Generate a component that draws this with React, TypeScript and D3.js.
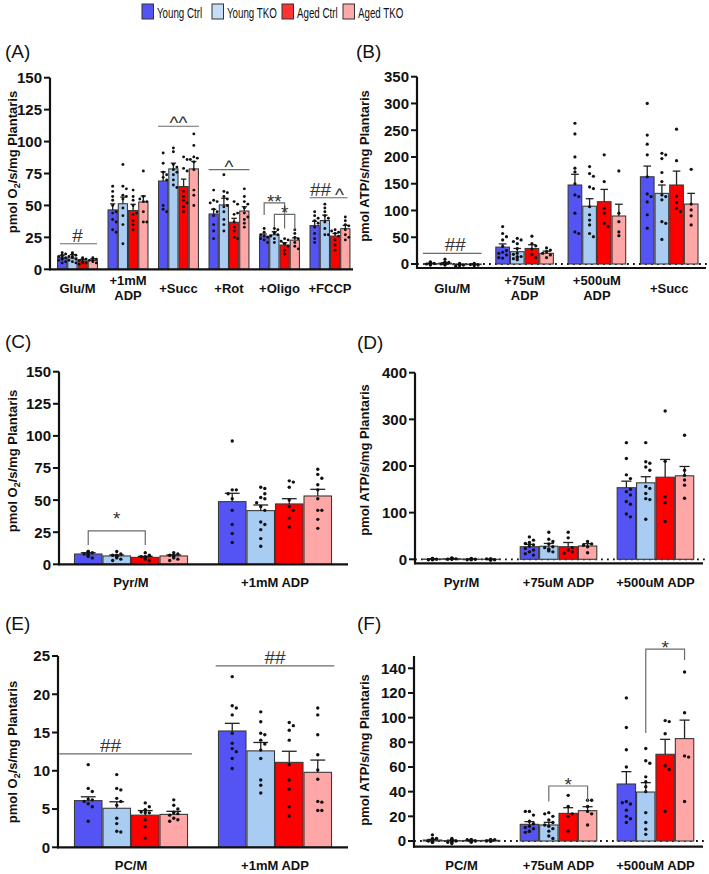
import React from "react";
import * as d3 from "d3";

const seriesNames = ["Young Ctrl", "Young TKO", "Aged Ctrl", "Aged TKO"];
const seriesColors = ["#5454F4", "#A9CCF3", "#FF0000", "#FFA6A6"];
const legendColors = ["#5454F4", "#C6DDF6", "#FF3333", "#FFAAAA"];

// ---------- Panel A ----------
const groupsA = ["Glu/M", "+1mM\nADP", "+Succ", "+Rot", "+Oligo", "+FCCP"];
const ticksA = [0, 25, 50, 75, 100, 125, 150];
const meanA = [
  [9.1, 8.9, 6.6, 7.0],
  [46.5, 51.3, 46.0, 52.7],
  [69.1, 78.6, 64.8, 78.6],
  [43.3, 50.4, 36.8, 45.6],
  [26.0, 27.0, 19.0, 22.8],
  [34.2, 38.2, 26.0, 31.8],
];
const semA = [
  [2.0, 2.6, 1.2, 1.2],
  [4.7, 5.2, 4.9, 4.7],
  [7.2, 4.5, 5.8, 5.8],
  [3.7, 5.2, 3.1, 3.4],
  [1.6, 2.4, 1.8, 1.8],
  [3.4, 4.2, 2.1, 2.6],
];
const ptsA = [
  [[13, 12, 10, 10, 9, 8, 8, 7, 6, 5, 11], [13, 11, 10, 10, 9, 8, 7, 6, 5, 12], [9, 8, 7, 6, 5, 5, 4, 8], [9, 8, 7, 7, 6, 5, 8]],
  [[65, 61, 57, 54, 50, 44, 39, 37, 31, 29, 45], [82, 65, 63, 58, 57, 55, 42, 35, 20, 48], [62, 57, 54, 50, 43, 38, 35, 31, 44], [77, 57, 53, 53, 45, 37, 37, 55]],
  [[91, 83, 76, 74, 72, 50, 47, 45, 70], [95, 92, 82, 80, 78, 76, 74, 70, 66, 64], [88, 86, 79, 77, 61, 57, 54, 52, 49, 45], [106, 97, 88, 87, 86, 84, 78, 62, 58, 50]],
  [[62, 54, 53, 52, 47, 42, 35, 30, 24, 45], [74, 61, 60, 57, 55, 49, 45, 39, 50, 30, 35], [53, 51, 43, 37, 33, 30, 25, 44, 24], [63, 57, 53, 51, 44, 39, 33, 48, 41, 36]],
  [[32, 29, 26, 25, 23, 21, 27, 24], [32, 31, 29, 27, 24, 21, 26, 28], [24, 23, 22, 20, 18, 15, 12, 20], [31, 28, 25, 21, 18, 24, 16]],
  [[45, 42, 38, 36, 33, 28, 24, 21, 40], [51, 48, 45, 42, 40, 37, 32, 27, 27], [31, 28, 26, 23, 19, 15, 29, 30], [41, 38, 35, 31, 27, 25, 23, 34]],
];

// ---------- Panel B ----------
const groupsB = ["Glu/M", "+75uM\nADP", "+500uM\nADP", "+Succ"];
const ticksB = [0, 50, 100, 150, 200, 250, 300, 350];
const meanB = [
  [0.8, 1.5, -1.5, -1.0],
  [31.5, 23.0, 29.0, 20.0],
  [147.6, 108.0, 116.4, 89.7],
  [163.0, 132.0, 147.6, 112.0],
];
const semB = [
  [0.6, 0.9, 0.7, 0.6],
  [6.0, 6.0, 7.0, 4.0],
  [20.0, 14.0, 23.0, 22.0],
  [20.0, 15.6, 26.0, 20.0],
];
const ptsB = [
  [[3, 1, 0, -1, 2, 0, -2, 1, 4, 0, 1], [9, 3, 1, 0, -1, 2, 0, 4, -2, 1], [1, -2, -4, 0, -3, -1, -2], [0, -2, -1, -3, 1, -2, 0]],
  [[70, 57, 51, 45, 33, 22, 17, 11, 20, 25, 12], [48, 45, 42, 38, 29, 20, 14, 18, 14, 10, 8, 12], [52, 38, 34, 28, 18, 12], [30, 26, 23, 17, 20, 12]],
  [[263, 243, 200, 179, 172, 129, 126, 95, 60, 57, 150], [182, 169, 164, 144, 141, 107, 92, 82, 73, 57, 51], [204, 154, 104, 95, 76, 70], [174, 95, 79, 60, 53]],
  [[300, 241, 224, 204, 163, 131, 126, 116, 92, 67], [207, 204, 197, 171, 154, 129, 126, 120, 79, 76, 46], [252, 193, 127, 115, 104, 98], [177, 112, 101, 90, 73]],
];

// ---------- Panel C ----------
const groupsC = ["Pyr/M", "+1mM ADP"];
const ticksC = [0, 25, 50, 75, 100, 125, 150];
const meanC = [
  [8.0, 6.5, 5.4, 6.5],
  [48.8, 41.8, 47.0, 53.2],
];
const semC = [
  [1.0, 0.8, 0.8, 0.8],
  [6.5, 4.4, 4.1, 5.2],
];
const ptsC = [
  [[10, 9, 8, 8, 7, 6, 5, 9, 8, 10], [10, 8, 7, 6, 5, 4, 6, 7, 3, 6], [9, 7, 6, 5, 4, 5, 6, 3], [9, 8, 7, 6, 5, 4, 3, 7]],
  [[96, 58, 58, 51, 42, 31, 24, 17, 55], [60, 59, 52, 51, 45, 42, 33, 31, 27, 20, 14, 48, 55], [65, 64, 60, 45, 42, 36, 29, 50], [74, 70, 67, 62, 58, 51, 42, 42, 35, 28]],
];

// ---------- Panel D ----------
const groupsD = ["Pyr/M", "+75uM ADP", "+500uM ADP"];
const ticksD = [0, 100, 200, 300, 400];
const meanD = [
  [0.5, 1.2, 0.3, 0.0],
  [27.0, 28.0, 27.0, 28.5],
  [153.5, 164.0, 176.0, 179.0],
];
const semD = [
  [0.4, 0.4, 0.4, 0.4],
  [5.0, 6.0, 9.0, 5.0],
  [14.0, 13.0, 38.0, 20.0],
];
const ptsD = [
  [[1, 0, -1, 2, 0, 1, -1, 0, 1, 2], [2, 1, 0, 3, 1, 2, 0, 1, 2], [1, 0, -1, 1, 0, 2, -1], [0, -1, 1, 0, -2, 1, 0]],
  [[48, 41, 36, 34, 31, 28, 23, 20, 16, 12, 9], [58, 43, 38, 33, 27, 25, 22, 20, 16, 18], [58, 46, 20, 16, 13, 25], [38, 33, 30, 27, 14]],
  [[250, 216, 181, 173, 145, 138, 124, 118, 97, 91, 150], [250, 209, 206, 198, 191, 130, 156, 152, 141, 128, 86], [318, 210, 134, 121, 81], [266, 191, 180, 170, 159, 131]],
];

// ---------- Panel E ----------
const groupsE = ["PC/M", "+1mM ADP"];
const ticksE = [0, 5, 10, 15, 20, 25];
const meanE = [
  [6.1, 5.1, 4.2, 4.3],
  [15.2, 12.6, 11.1, 9.8],
];
const semE = [
  [0.5, 0.85, 0.6, 0.4],
  [1.0, 1.1, 1.45, 1.6],
];
const ptsE = [
  [[10.8, 7.7, 7.3, 6.3, 6.2, 6.0, 5.7, 5.3, 3.4], [9.5, 7.7, 7.5, 6.4, 6.0, 5.5, 3.8, 3.1, 2.1, 2.0], [5.8, 5.3, 4.9, 4.5, 4.6, 3.6, 2.7, 1.2, 4.8, 4.5], [6.2, 5.5, 5.0, 4.6, 4.4, 4.2, 3.8, 3.6, 3.4, 4.5]],
  [[22.3, 18.5, 18.2, 17.3, 14.9, 13.6, 12.9, 12.5, 11.6, 10.3], [17.7, 16.4, 14.9, 14.7, 14.0, 12.7, 11.6, 8.8, 8.1, 7.1, 13.5], [16.3, 15.9, 15.3, 14.0, 10.8, 8.8, 7.6, 5.3, 4.1], [18.2, 17.3, 14.7, 12.1, 10.1, 8.9, 6.0, 5.9, 4.8, 4.8]],
];

// ---------- Panel F ----------
const groupsF = ["PC/M", "+75uM ADP", "+500uM ADP"];
const ticksF = [0, 20, 40, 60, 80, 100, 120, 140];
const meanF = [
  [0.8, 0.3, 0.4, 0.5],
  [13.5, 13.0, 22.4, 24.6],
  [46.2, 39.7, 70.3, 83.0],
];
const semF = [
  [0.5, 0.4, 0.3, 0.2],
  [2.2, 2.1, 4.6, 3.2],
  [10.0, 7.6, 12.1, 15.0],
];
const ptsF = [
  [[5, 2, 1, 0, -1, 1, 0, 2, -1, 0], [1, 0, -1, 2, 0, -2, 1, 0, -1], [1, 0, 1, 0, -1, 0, 1], [0, 1, 0, 1, 0, 0, 1]],
  [[24, 21, 16, 14, 12, 11, 10, 8, 8, 7, 24], [23, 20, 17, 15, 12, 10, 8, 4, 2, 22, 13], [37, 28, 20, 8, 22], [33, 33, 28, 24, 22, 13]],
  [[116, 92, 74, 60, 32, 30, 25, 20, 18, 15, 31], [75, 65, 63, 52, 48, 44, 40, 23, 15, 9.5, 5.4], [97.6, 96.8, 87, 61, 58, 24], [137, 104, 69, 68, 32]],
];

// ---------- annotations (data units) ----------
type Ann =
  | { kind: "line"; g: number; f1: number; f2: number; v: number; labels: { t: string; f: number }[] }
  | { kind: "bracket"; g: number; s1: number; s2: number; v: number; v1: number; v2: number; label: string; dy?: number };

const annA: Ann[] = [
  { kind: "line", g: 0, f1: 0.07, f2: 0.98, v: 20, labels: [{ t: "#", f: 0.5 }] },
  { kind: "line", g: 2, f1: 0, f2: 1, v: 112, labels: [{ t: "^^", f: 0.5 }] },
  { kind: "line", g: 3, f1: 0, f2: 1, v: 78, labels: [{ t: "^", f: 0.5 }] },
  { kind: "bracket", g: 4, s1: 0, s2: 2, v: 52, v1: 42.5, v2: 32, label: "**" },
  { kind: "bracket", g: 4, s1: 1, s2: 3, v: 43, v1: 33, v2: 31, label: "*" },
  { kind: "line", g: 5, f1: 0, f2: 0.93, v: 56, labels: [{ t: "##", f: 0.27 }, { t: "^", f: 0.73 }] },
];
const annB: Ann[] = [{ kind: "line", g: 0, f1: 0, f2: 1, v: 20, labels: [{ t: "##", f: 0.55 }] }];
const annC: Ann[] = [{ kind: "bracket", g: 0, s1: 0, s2: 2, v: 26, v1: 15, v2: 15, label: "*", dy: -6 }];
const annD: Ann[] = [];
const annE: Ann[] = [
  { kind: "line", g: 0, f1: -0.13, f2: 1.035, v: 12.2, labels: [{ t: "##", f: 0.32 }] },
  { kind: "line", g: 1, f1: -0.02, f2: 1.02, v: 23.7, labels: [{ t: "##", f: 0.5 }] },
];
const annF: Ann[] = [
  { kind: "bracket", g: 1, s1: 1, s2: 3, v: 44.6, v1: 32, v2: 32, label: "*" },
  { kind: "bracket", g: 2, s1: 1, s2: 3, v: 155.6, v1: 87.5, v2: 146.7, label: "*" },
];

const FONT = "Arial, 'Liberation Sans', Helvetica, sans-serif";

type PanelCfg = {
  letter: string;
  letterX: number;
  letterY: number;
  groups: string[];
  means: number[][];
  sems: number[][];
  points: number[][][];
  ticks: number[];
  ann: Ann[];
  yZeroPx: number;
  yTopTickPx: number;
  yAxisTopVal: number;
  yMinVal: number;
  axisX: number;
  axisXEnd: number;
  bandRange: [number, number];
  padIn: number;
  padOut: number;
  yLabel: "O2" | "ATP";
  yLabelX: number;
  yLabelY: number;
  singleBase: number;
  twoBase: number;
  dotted: boolean;
  dotR: number;
};

function swarm(vals: number[], y: (v: number) => number, r: number, maxOff: number) {
  const placed: { x: number; y: number }[] = [];
  const res: { x: number; y: number }[] = [];
  const d = r * 2.4;
  vals.forEach((v) => {
    const py = y(v);
    let chosen = 0;
    for (let k = 0; k < 30; k++) {
      const cand = k === 0 ? 0 : (k % 2 === 1 ? 1 : -1) * Math.ceil(k / 2) * d;
      if (Math.abs(cand) > maxOff) {
        chosen = ((k % 7) / 6 - 0.5) * 2 * maxOff;
        break;
      }
      const ok = placed.every((p) => Math.hypot(p.x - cand, p.y - py) >= d * 0.95);
      if (ok) {
        chosen = cand;
        break;
      }
    }
    placed.push({ x: chosen, y: py });
    res.push({ x: chosen, y: py });
  });
  return res;
}

function Panel(p: PanelCfg) {
  const topTick = p.ticks[p.ticks.length - 1];
  const y = d3.scaleLinear().domain([0, topTick]).range([p.yZeroPx, p.yTopTickPx]);
  const xg = d3.scaleBand<string>().domain(p.groups).range(p.bandRange).paddingInner(p.padIn).paddingOuter(p.padOut);
  const xs = d3.scaleBand<string>().domain(seriesNames).range([0, xg.bandwidth()]);
  const bw = xs.bandwidth();
  const bottom = y(p.yMinVal);
  const barCenter = (g: number, s: number) => (xg(p.groups[g]) as number) + (xs(seriesNames[s]) as number) + bw / 2;
  const annColor = "#6a6a6a";

  const labelDy = (t: string) => (t.startsWith("#") ? -2 : t.startsWith("^") ? 3 : 5);

  return (
    <g>
      <text x={p.letterX} y={p.letterY} fontFamily={FONT} fontSize={19} fill="#111">
        {p.letter}
      </text>
      <text
        transform={`translate(${p.yLabelX},${p.yLabelY}) rotate(-90)`}
        textAnchor="middle"
        fontFamily={FONT}
        fontSize={13}
        fontWeight="bold"
        fill="#111"
      >
        {p.yLabel === "O2" ? (
          <>
            pmol O<tspan fontSize={9} dy={3}>2</tspan>
            <tspan dy={-3}>/s/mg Plantaris</tspan>
          </>
        ) : (
          "pmol ATP/s/mg Plantaris"
        )}
      </text>
      {p.dotted && (
        <line
          x1={p.axisX}
          x2={p.axisXEnd + 2}
          y1={y(0)}
          y2={y(0)}
          stroke="#111"
          strokeWidth={1.8}
          strokeDasharray="1.8,4.2"
        />
      )}
      {p.groups.map((gname, gi) =>
        seriesNames.map((sn, si) => {
          const m = p.means[gi][si];
          const x0 = (xg(gname) as number) + (xs(sn) as number);
          const yTop = Math.min(y(m), y(0));
          const h = Math.abs(y(m) - y(0));
          return (
            <rect
              key={`b${gi}-${si}`}
              x={x0 + 0.5}
              y={yTop}
              width={bw - 1}
              height={Math.max(h, 0.01)}
              fill={seriesColors[si]}
              stroke="#3a3a3a"
              strokeWidth={1.1}
            />
          );
        })
      )}
      {p.groups.map((gname, gi) =>
        seriesNames.map((sn, si) => {
          const m = p.means[gi][si];
          const e = p.sems[gi][si];
          const cx = barCenter(gi, si);
          const cap = bw * 0.26;
          return (
            <g key={`e${gi}-${si}`} stroke="#222" strokeWidth={1.3}>
              <line x1={cx} x2={cx} y1={y(m)} y2={y(m + e)} />
              <line x1={cx - cap} x2={cx + cap} y1={y(m + e)} y2={y(m + e)} />
            </g>
          );
        })
      )}
      {p.groups.map((gname, gi) =>
        seriesNames.map((sn, si) => {
          const cx = barCenter(gi, si);
          const pos = swarm(p.points[gi][si], y, p.dotR, Math.min(bw * 0.38, 8));
          return pos.map((q, k) => (
            <circle key={`p${gi}-${si}-${k}`} cx={cx + q.x} cy={q.y} r={p.dotR} fill="#111" />
          ));
        })
      )}
      <line x1={p.axisX} x2={p.axisX} y1={bottom + 1} y2={y(p.yAxisTopVal)} stroke="#111" strokeWidth={2.2} />
      <line x1={p.axisX - 1} x2={p.axisXEnd} y1={bottom} y2={bottom} stroke="#111" strokeWidth={2.2} />
      {p.ticks.map((t) => (
        <g key={`t${t}`}>
          <line x1={p.axisX - 6} x2={p.axisX} y1={y(t)} y2={y(t)} stroke="#111" strokeWidth={2} />
          <text
            x={p.axisX - 8}
            y={y(t)}
            dy="0.36em"
            textAnchor="end"
            fontFamily={FONT}
            fontSize={15}
            fontWeight="bold"
            fill="#111"
          >
            {t}
          </text>
        </g>
      ))}
      {p.groups.map((gname, gi) => {
        const cx = (xg(gname) as number) + xg.bandwidth() / 2;
        const lines = gname.split("\n");
        return (
          <text
            key={`c${gi}`}
            x={cx}
            textAnchor="middle"
            fontFamily={FONT}
            fontSize={13}
            fontWeight="bold"
            fill="#111"
          >
            {lines.length === 1 ? (
              <tspan x={cx} y={p.singleBase}>
                {lines[0]}
              </tspan>
            ) : (
              lines.map((l, li) => (
                <tspan key={li} x={cx} y={p.twoBase + li * 15}>
                  {l}
                </tspan>
              ))
            )}
          </text>
        );
      })}
      {p.ann.map((a, ai) => {
        if (a.kind === "line") {
          const gx = xg(p.groups[a.g]) as number;
          const W = xg.bandwidth();
          const ly = y(a.v);
          return (
            <g key={`a${ai}`}>
              <line x1={gx + a.f1 * W} x2={gx + a.f2 * W} y1={ly} y2={ly} stroke={annColor} strokeWidth={1.2} />
              {a.labels.map((lb, li) => (
                <text
                  key={li}
                  x={gx + lb.f * W}
                  y={ly + labelDy(lb.t)}
                  textAnchor="middle"
                  fontFamily={FONT}
                  fontSize={19}
                  fill="#333"
                >
                  {lb.t}
                </text>
              ))}
            </g>
          );
        }
        const x1 = barCenter(a.g, a.s1);
        const x2 = barCenter(a.g, a.s2);
        const ly = y(a.v);
        return (
          <g key={`a${ai}`}>
            <path
              d={`M${x1},${y(a.v1)}V${ly}H${x2}V${y(a.v2)}`}
              fill="none"
              stroke={annColor}
              strokeWidth={1.2}
            />
            <text
              x={(x1 + x2) / 2}
              y={ly + (a.dy !== undefined ? a.dy : labelDy(a.label))}
              textAnchor="middle"
              fontFamily={FONT}
              fontSize={19}
              fill="#333"
            >
              {a.label}
            </text>
          </g>
        );
      })}
    </g>
  );
}

const legendX = [142, 212, 282, 343];

export default function App() {
  return (
    <svg
      width={709}
      height={874}
      viewBox="0 0 709 874"
      style={{ position: "absolute", left: 0, top: 0, background: "#fff" }}
    >
      <rect width={709} height={874} fill="#fff" />
      {seriesNames.map((s, i) => (
        <g key={s}>
          <rect x={legendX[i]} y={4} width={11.5} height={15} fill={legendColors[i]} stroke="#333" strokeWidth={1} />
          <text
            transform={`translate(${legendX[i] + 15},17.5) scale(0.65,1)`}
            fontFamily={FONT}
            fontSize={15}
            fill="#111"
          >
            {s}
          </text>
        </g>
      ))}
      <Panel
        letter="(A)"
        letterX={5}
        letterY={58}
        groups={groupsA}
        means={meanA}
        sems={semA}
        points={ptsA}
        ticks={ticksA}
        ann={annA}
        yZeroPx={269.3}
        yTopTickPx={77.7}
        yAxisTopVal={150}
        yMinVal={0}
        axisX={50}
        axisXEnd={353}
        bandRange={[50, 357.5]}
        padIn={0.19}
        padOut={0.14}
        yLabel="O2"
        yLabelX={16.5}
        yLabelY={162}
        singleBase={293}
        twoBase={285}
        dotted={false}
        dotR={1.45}
      />
      <Panel
        letter="(B)"
        letterX={356}
        letterY={58}
        groups={groupsB}
        means={meanB}
        sems={semB}
        points={ptsB}
        ticks={ticksB}
        ann={annB}
        yZeroPx={264}
        yTopTickPx={76.7}
        yAxisTopVal={350}
        yMinVal={-7.5}
        axisX={417}
        axisXEnd={706}
        bandRange={[417, 704.5]}
        padIn={0.19}
        padOut={0.083}
        yLabel="ATP"
        yLabelX={369}
        yLabelY={166}
        singleBase={293}
        twoBase={285}
        dotted={true}
        dotR={1.6}
      />
      <Panel
        letter="(C)"
        letterX={5}
        letterY={348}
        groups={groupsC}
        means={meanC}
        sems={semC}
        points={ptsC}
        ticks={ticksC}
        ann={annC}
        yZeroPx={564.3}
        yTopTickPx={371.7}
        yAxisTopVal={150}
        yMinVal={0}
        axisX={59}
        axisXEnd={348}
        bandRange={[59, 347]}
        padIn={0.208}
        padOut={0.104}
        yLabel="O2"
        yLabelX={16.5}
        yLabelY={461}
        singleBase={587}
        twoBase={587}
        dotted={false}
        dotR={1.7}
      />
      <Panel
        letter="(D)"
        letterX={357}
        letterY={349}
        groups={groupsD}
        means={meanD}
        sems={semD}
        points={ptsD}
        ticks={ticksD}
        ann={annD}
        yZeroPx={559.3}
        yTopTickPx={372.7}
        yAxisTopVal={400}
        yMinVal={-8.6}
        axisX={415}
        axisXEnd={703}
        bandRange={[415, 702]}
        padIn={0.2}
        padOut={0.08}
        yLabel="ATP"
        yLabelX={369}
        yLabelY={460}
        singleBase={587}
        twoBase={587}
        dotted={true}
        dotR={1.7}
      />
      <Panel
        letter="(E)"
        letterX={5}
        letterY={630}
        groups={groupsE}
        means={meanE}
        sems={semE}
        points={ptsE}
        ticks={ticksE}
        ann={annE}
        yZeroPx={847.3}
        yTopTickPx={656}
        yAxisTopVal={25}
        yMinVal={0}
        axisX={58}
        axisXEnd={348}
        bandRange={[59, 347]}
        padIn={0.208}
        padOut={0.104}
        yLabel="O2"
        yLabelX={16.5}
        yLabelY={752}
        singleBase={870}
        twoBase={870}
        dotted={false}
        dotR={1.7}
      />
      <Panel
        letter="(F)"
        letterX={357}
        letterY={630}
        groups={groupsF}
        means={meanF}
        sems={semF}
        points={ptsF}
        ticks={ticksF}
        ann={annF}
        yZeroPx={841}
        yTopTickPx={668.3}
        yAxisTopVal={150}
        yMinVal={-4.6}
        axisX={414}
        axisXEnd={703}
        bandRange={[415, 702]}
        padIn={0.2}
        padOut={0.08}
        yLabel="ATP"
        yLabelX={369}
        yLabelY={750}
        singleBase={870}
        twoBase={870}
        dotted={true}
        dotR={1.7}
      />
    </svg>
  );
}
